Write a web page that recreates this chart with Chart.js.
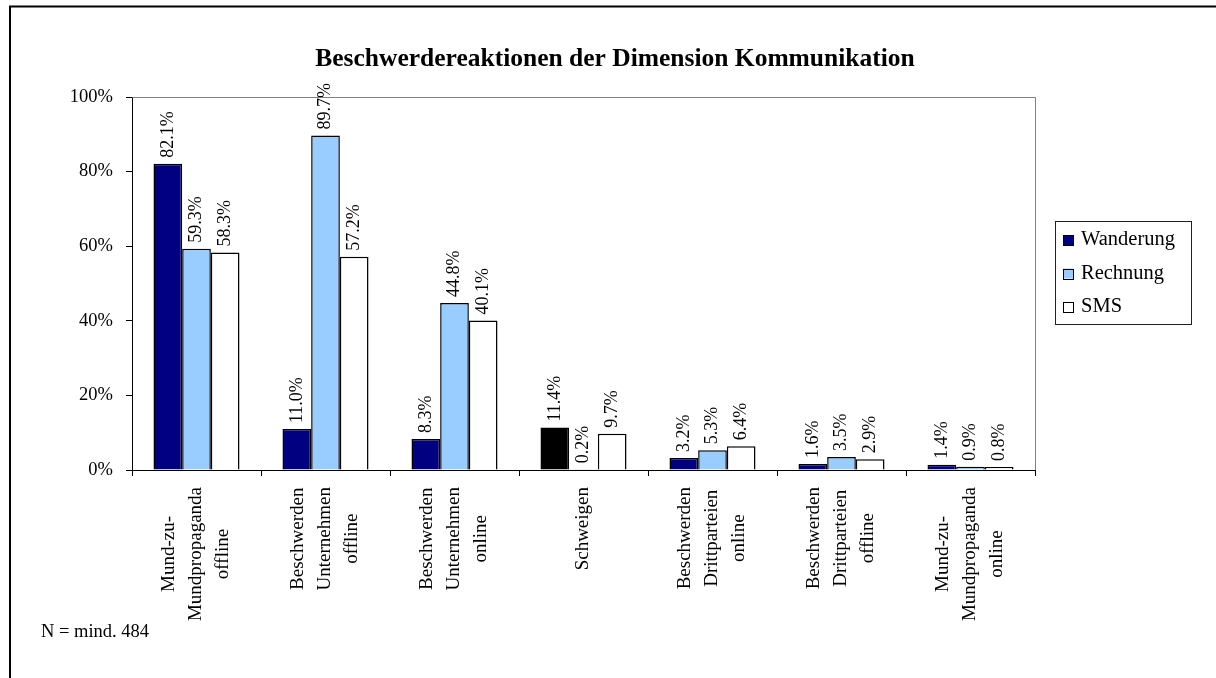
<!DOCTYPE html>
<html>
<head>
<meta charset="utf-8">
<title>Beschwerdereaktionen der Dimension Kommunikation</title>
<script src="https://cdn.jsdelivr.net/npm/chart.js@4.4.1/dist/chart.umd.min.js"></script>
<style>
  html, body { margin: 0; padding: 0; background: #fff; }
  canvas { display: block; }
</style>
</head>
<body>
<canvas id="chartKommunikation" width="1216" height="678"></canvas>
<script>
// Kategorien (eine Zeile pro Array-Eintrag)
const categories = [
  ['Mund-zu-', 'Mundpropaganda', 'offline'],
  ['Beschwerden', 'Unternehmen', 'offline'],
  ['Beschwerden', 'Unternehmen', 'online'],
  ['Schweigen'],
  ['Beschwerden', 'Drittparteien', 'online'],
  ['Beschwerden', 'Drittparteien', 'offline'],
  ['Mund-zu-', 'Mundpropaganda', 'online']
];
const seriesNames = ['Wanderung', 'Rechnung', 'SMS'];
const wanderung = [82.1, 11.0, 8.3, 11.4, 3.2, 1.6, 1.4];
const rechnung = [59.3, 89.7, 44.8, 0.2, 5.3, 3.5, 0.9];
const sms = [58.3, 57.2, 40.1, 9.7, 6.4, 2.9, 0.8];
const yTicks = [0, 20, 40, 60, 80, 100];
const titleText = 'Beschwerdereaktionen der Dimension Kommunikation';
const noteText = 'N = mind. 484';

const serif = '"Liberation Serif", "Times New Roman", serif';

// Schweigen wird bei Wanderung schwarz hervorgehoben
function wanderungColor(ctx) {
  if (ctx.type === 'data' && categories[ctx.dataIndex][0] === 'Schweigen') return '#000000';
  return '#000080';
}

const extras = {
  id: 'extras',
  beforeDraw(chart) {
    const ctx = chart.ctx;
    ctx.save();
    ctx.fillStyle = '#ffffff';
    ctx.fillRect(0, 0, chart.width, chart.height);
    // Rahmen um das Diagramm
    ctx.strokeStyle = '#000000';
    ctx.lineWidth = 2;
    ctx.beginPath();
    ctx.moveTo(10, chart.height);
    ctx.lineTo(10, 6.5);
    ctx.lineTo(chart.width, 6.5);
    ctx.stroke();
    ctx.restore();
  },
  afterDatasetsDraw(chart) {
    const ctx = chart.ctx;
    ctx.save();
    ctx.font = '18px ' + serif;
    ctx.fillStyle = '#000000';
    ctx.textAlign = 'left';
    ctx.textBaseline = 'middle';
    chart.data.datasets.forEach((ds, di) => {
      chart.getDatasetMeta(di).data.forEach((bar, i) => {
        ctx.save();
        ctx.translate(bar.x, bar.y - 6);
        ctx.rotate(-Math.PI / 2);
        ctx.fillText(ds.data[i].toFixed(1) + '%', 0, 0);
        ctx.restore();
      });
    });
    ctx.restore();
  },
  afterDraw(chart) {
    const ctx = chart.ctx;
    const area = chart.chartArea;
    ctx.save();

    // Titel
    ctx.font = 'bold 25.5px ' + serif;
    ctx.fillStyle = '#000000';
    ctx.textAlign = 'center';
    ctx.textBaseline = 'middle';
    ctx.fillText(titleText, 615, 59);

    // grauer Rahmen oben und rechts
    ctx.strokeStyle = '#808080';
    ctx.lineWidth = 1;
    ctx.beginPath();
    ctx.moveTo(Math.round(area.left) + 0.5, Math.round(area.top) + 0.5);
    ctx.lineTo(Math.round(area.right) + 0.5, Math.round(area.top) + 0.5);
    ctx.lineTo(Math.round(area.right) + 0.5, Math.round(area.bottom));
    ctx.stroke();

    // Kategoriebeschriftung, senkrecht, Zeilen zentriert
    const xs = chart.scales.x;
    const top = xs.top + 17;
    ctx.font = '19px ' + serif;
    categories.forEach((lines, i) => {
      const cx = xs.getPixelForValue(i);
      const maxW = Math.max(...lines.map(l => ctx.measureText(l).width));
      const cy = top + maxW / 2;
      lines.forEach((line, j) => {
        ctx.save();
        ctx.translate(cx + (j - (lines.length - 1) / 2) * 27, cy);
        ctx.rotate(-Math.PI / 2);
        ctx.fillText(line, 0, 0);
        ctx.restore();
      });
    });

    // Legende mit Kasten
    const items = Chart.defaults.plugins.legend.labels.generateLabels(chart);
    const boxX = area.right + 20;
    const boxY = 221;
    ctx.strokeStyle = '#202020';
    ctx.strokeRect(Math.round(boxX) + 0.5, boxY + 0.5, 136, 103);
    ctx.strokeStyle = '#000000';
    ctx.font = '20.5px ' + serif;
    ctx.textAlign = 'left';
    items.forEach((item, i) => {
      const y = boxY + 19 + i * 33.5;
      ctx.fillStyle = item.fillStyle;
      ctx.fillRect(boxX + 8, y - 5, 10, 10);
      ctx.strokeRect(Math.round(boxX + 8) + 0.5, Math.round(y - 5) + 0.5, 10, 10);
      ctx.fillStyle = '#000000';
      ctx.fillText(item.text, boxX + 26, y);
    });

    // Fallzahl unten links
    ctx.font = '18.5px ' + serif;
    ctx.fillText(noteText, 41, 632);
    ctx.restore();
  }
};

new Chart(document.getElementById('chartKommunikation'), {
  type: 'bar',
  data: {
    labels: categories,
    datasets: [
      { label: seriesNames[0], data: wanderung, backgroundColor: wanderungColor },
      { label: seriesNames[1], data: rechnung, backgroundColor: '#99CCFF' },
      { label: seriesNames[2], data: sms, backgroundColor: '#FFFFFF' }
    ]
  },
  options: {
    responsive: false,
    animation: false,
    layout: { padding: { left: 0, right: 181, top: 97, bottom: 0 } },
    datasets: {
      bar: {
        borderColor: '#000000',
        borderWidth: 1.5,
        categoryPercentage: 0.667,
        barPercentage: 1.0
      }
    },
    plugins: {
      legend: { display: false },
      tooltip: { enabled: false }
    },
    scales: {
      x: {
        offset: true,
        grid: { offset: true, drawOnChartArea: false, drawTicks: true, tickLength: 6, color: '#000000' },
        border: { color: '#000000', width: 1 },
        ticks: { display: false },
        afterFit(scale) { scale.height = 208; }
      },
      y: {
        min: 0,
        max: 100,
        afterBuildTicks(scale) { scale.ticks = yTicks.map(v => ({ value: v })); },
        grid: { drawOnChartArea: false, drawTicks: true, tickLength: 6, color: '#000000' },
        border: { color: '#000000', width: 1 },
        ticks: {
          color: '#000000',
          padding: 13,
          font: { family: serif, size: 18.5 },
          callback: v => v + '%'
        },
        afterFit(scale) { scale.width = 132; }
      }
    }
  },
  plugins: [extras]
});
</script>
</body>
</html>
